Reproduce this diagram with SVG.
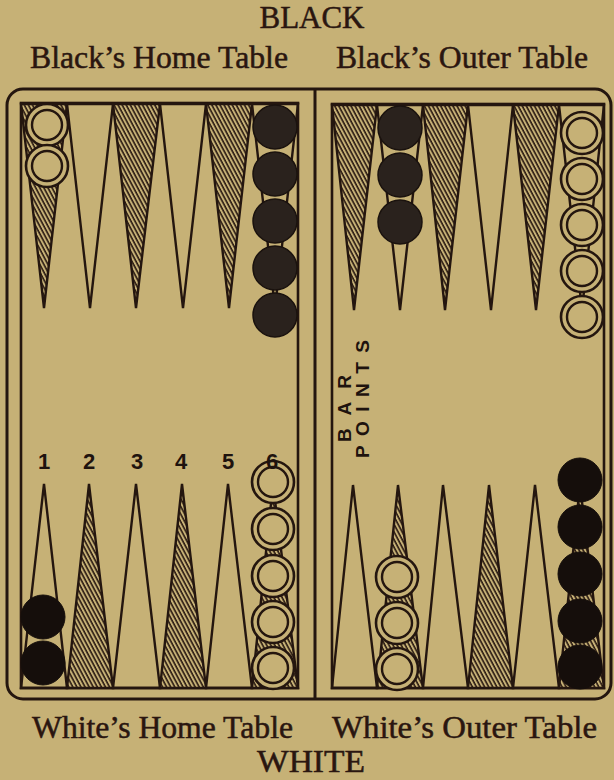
<svg xmlns="http://www.w3.org/2000/svg" width="614" height="780" viewBox="0 0 614 780">
<defs>
<pattern id="hatch" width="3.6" height="4" patternUnits="userSpaceOnUse" patternTransform="rotate(-28)">
<rect width="3.6" height="4" fill="#c6b176"/>
<line x1="1" y1="0" x2="1" y2="4" stroke="#2a1a12" stroke-width="1.6"/>
</pattern>
</defs>
<style>
.bg{fill:#c6b176}
.frame{fill:none;stroke:#24160f;stroke-width:3}
.inner{fill:none;stroke:#24160f;stroke-width:2.6}
.pt{fill:none;stroke:#24160f;stroke-width:2.4;stroke-linejoin:miter}
.ph{fill:url(#hatch);stroke:#24160f;stroke-width:2.4}
.wo{fill:#c6b176;stroke:#24160f;stroke-width:2.6}
.wi{fill:none;stroke:#24160f;stroke-width:2.4}
.bt{fill:#2a221d;stroke:#1a120e;stroke-width:1.5}
.bb{fill:#150e0b;stroke:#150e0b;stroke-width:1}
.title{font-family:"Liberation Serif",serif;font-size:31px;fill:#2a1610;stroke:#2a1610;stroke-width:0.5}
.num{font-family:"Liberation Sans",sans-serif;font-weight:bold;font-size:22px;fill:#1e130e;text-anchor:middle}
.bar{font-family:"Liberation Sans",sans-serif;font-weight:bold;font-size:19px;fill:#1e130e}
</style>
<rect class="bg" x="0" y="0" width="614" height="780"/>

<g id="labels">
<text class="title" x="312" y="28" text-anchor="middle" textLength="105" lengthAdjust="spacingAndGlyphs">BLACK</text>
<text class="title" x="30" y="68" textLength="258" lengthAdjust="spacingAndGlyphs">Black’s Home Table</text>
<text class="title" x="336" y="68" textLength="252" lengthAdjust="spacingAndGlyphs">Black’s Outer Table</text>
<text class="title" x="32" y="738" textLength="261" lengthAdjust="spacingAndGlyphs">White’s Home Table</text>
<text class="title" x="332" y="738" textLength="265" lengthAdjust="spacingAndGlyphs">White’s Outer Table</text>
<text class="title" x="311" y="772" text-anchor="middle" textLength="108" lengthAdjust="spacingAndGlyphs">WHITE</text>
</g>

<g id="board">
<rect class="frame" x="7" y="89" width="604" height="610" rx="16" ry="16"/>
<line class="frame" x1="315" y1="89" x2="315" y2="699"/>
<rect class="inner" x="21" y="103" width="277" height="585"/>
<rect class="inner" x="332" y="104" width="272" height="584"/>
</g>

<g id="points-top-left">
<polygon class="ph" points="21,104 67,104 44,308"/>
<polygon class="pt" points="67,104 113,104 90,308"/>
<polygon class="ph" points="113,104 160,104 136,308"/>
<polygon class="pt" points="160,104 206,104 183,308"/>
<polygon class="ph" points="206,104 252,104 229,308"/>
<polygon class="pt" points="252,104 298,104 275,308"/>
</g>
<g id="points-top-right">
<polygon class="ph" points="332,105 377,105 354,310"/>
<polygon class="pt" points="377,105 423,105 400,310"/>
<polygon class="ph" points="423,105 468,105 445,310"/>
<polygon class="pt" points="468,105 513,105 491,310"/>
<polygon class="ph" points="513,105 559,105 536,310"/>
<polygon class="pt" points="559,105 604,105 582,310"/>
</g>
<g id="points-bottom-left">
<polygon class="pt" points="21,688 67,688 44,484"/>
<polygon class="ph" points="67,688 113,688 89,484"/>
<polygon class="pt" points="113,688 160,688 136,484"/>
<polygon class="ph" points="160,688 206,688 182,484"/>
<polygon class="pt" points="206,688 252,688 228,484"/>
<polygon class="ph" points="252,688 298,688 273,484"/>
</g>
<g id="points-bottom-right">
<polygon class="pt" points="332,688 377,688 353,485"/>
<polygon class="ph" points="377,688 423,688 398,485"/>
<polygon class="pt" points="423,688 468,688 443,485"/>
<polygon class="ph" points="468,688 513,688 489,485"/>
<polygon class="pt" points="513,688 559,688 535,485"/>
<polygon class="ph" points="559,688 604,688 580,485"/>
</g>

<g id="checkers-top-left-white">
<circle class="wo" cx="47" cy="125" r="21"/><circle class="wi" cx="47" cy="125" r="15"/>
<circle class="wo" cx="47" cy="166" r="21"/><circle class="wi" cx="47" cy="166" r="15"/>
</g>
<g id="checkers-top-left-black">
<circle class="bt" cx="275" cy="127" r="22"/>
<circle class="bt" cx="275" cy="174" r="22"/>
<circle class="bt" cx="275" cy="221" r="22"/>
<circle class="bt" cx="275" cy="268" r="22"/>
<circle class="bt" cx="275" cy="315" r="22"/>
</g>
<g id="checkers-top-right-black">
<circle class="bt" cx="400" cy="128" r="22"/>
<circle class="bt" cx="400" cy="175" r="22"/>
<circle class="bt" cx="400" cy="222" r="22"/>
</g>
<g id="checkers-top-right-white">
<circle class="wo" cx="582" cy="133" r="21"/><circle class="wi" cx="582" cy="133" r="15"/>
<circle class="wo" cx="582" cy="179" r="21"/><circle class="wi" cx="582" cy="179" r="15"/>
<circle class="wo" cx="582" cy="225" r="21"/><circle class="wi" cx="582" cy="225" r="15"/>
<circle class="wo" cx="582" cy="271" r="21"/><circle class="wi" cx="582" cy="271" r="15"/>
<circle class="wo" cx="582" cy="317" r="21"/><circle class="wi" cx="582" cy="317" r="15"/>
</g>
<g id="checkers-bottom-left-black">
<circle class="bb" cx="43" cy="617" r="22"/>
<circle class="bb" cx="43" cy="663" r="22"/>
</g>
<g id="checkers-bottom-left-white">
<circle class="wo" cx="273" cy="482" r="21"/><circle class="wi" cx="273" cy="482" r="15"/>
<circle class="wo" cx="273" cy="529" r="21"/><circle class="wi" cx="273" cy="529" r="15"/>
<circle class="wo" cx="273" cy="576" r="21"/><circle class="wi" cx="273" cy="576" r="15"/>
<circle class="wo" cx="273" cy="622" r="21"/><circle class="wi" cx="273" cy="622" r="15"/>
<circle class="wo" cx="273" cy="668" r="21"/><circle class="wi" cx="273" cy="668" r="15"/>
</g>
<g id="checkers-bottom-right-white">
<circle class="wo" cx="397" cy="577" r="21"/><circle class="wi" cx="397" cy="577" r="15"/>
<circle class="wo" cx="397" cy="623" r="21"/><circle class="wi" cx="397" cy="623" r="15"/>
<circle class="wo" cx="397" cy="669" r="21"/><circle class="wi" cx="397" cy="669" r="15"/>
</g>
<g id="checkers-bottom-right-black">
<circle class="bb" cx="580" cy="480" r="22"/>
<circle class="bb" cx="580" cy="527" r="22"/>
<circle class="bb" cx="580" cy="574" r="22"/>
<circle class="bb" cx="580" cy="621" r="22"/>
<circle class="bb" cx="580" cy="667" r="22"/>
</g>

<g id="numbers">
<text class="num" x="44" y="469">1</text>
<text class="num" x="89" y="469">2</text>
<text class="num" x="137" y="469">3</text>
<text class="num" x="181" y="469">4</text>
<text class="num" x="228" y="469">5</text>
<text class="num" x="272" y="469">6</text>
</g>

<g id="bar-points">
<text class="bar" transform="translate(351,442) rotate(-90)" textLength="67" lengthAdjust="spacing">BAR</text>
<text class="bar" transform="translate(369,458) rotate(-90)" textLength="118" lengthAdjust="spacing">POINTS</text>
</g>
</svg>
